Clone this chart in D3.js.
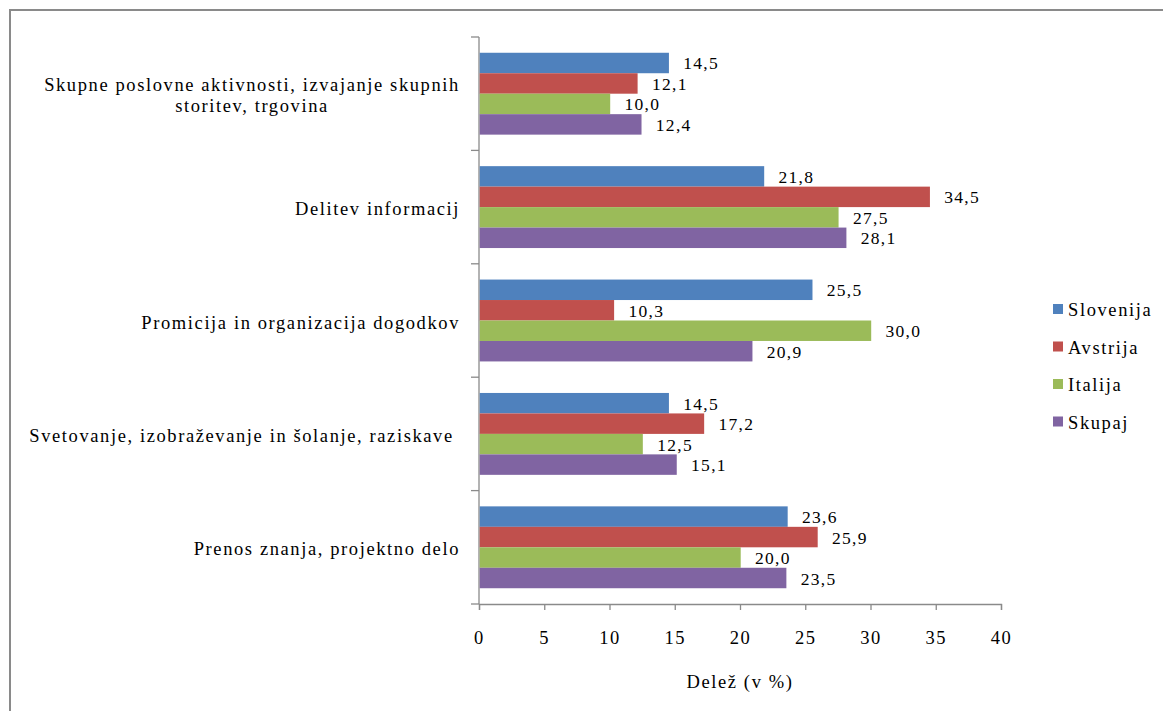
<!DOCTYPE html>
<html><head><meta charset="utf-8">
<script src="https://cdn.jsdelivr.net/npm/d3@7"></script>
<style>
html,body{margin:0;padding:0;background:#fff;overflow:hidden}
</style></head>
<body>
<svg id="chart" width="1163" height="711" font-family="Liberation Serif"></svg>
<script>
const categories = [
  ["Skupne poslovne aktivnosti, izvajanje skupnih", "storitev, trgovina"],
  ["Delitev informacij"],
  ["Promicija in organizacija dogodkov"],
  ["Svetovanje, izobraževanje in šolanje, raziskave "],
  ["Prenos znanja, projektno delo"]
];
const seriesNames = ["Slovenija", "Avstrija", "Italija", "Skupaj"];
const slovenija = [14.5, 21.8, 25.5, 14.5, 23.6];
const avstrija  = [12.1, 34.5, 10.3, 17.2, 25.9];
const italija   = [10.0, 27.5, 30.0, 12.5, 20.0];
const skupaj    = [12.4, 28.1, 20.9, 15.1, 23.5];
const xTicks = [0, 5, 10, 15, 20, 25, 30, 35, 40];
const axisTitle = "Delež (v %)";

(function () {
const FONT = "Liberation Serif";
const seriesValues = [slovenija, avstrija, italija, skupaj];
const colors = ["#4F81BD", "#C0504D", "#9BBB59", "#8064A2"];

const svg = d3.select("#chart");
svg.append("rect").attr("x", 10).attr("y", 10).attr("width", 1200).attr("height", 760)
  .attr("fill", "none").attr("stroke", "#8a8a8a").attr("stroke-width", 2);

const pLeft = 479, pRight = 1001, pTop = 37, pBottom = 604;
const x = d3.scaleLinear().domain([0, 40]).range([pLeft, pRight]);
const catIdx = categories.map((d, i) => i);
const y = d3.scaleBand().domain(catIdx).range([pTop, pBottom]).padding(0);
const ys = d3.scaleBand().domain(d3.range(seriesNames.length)).range([0, y.bandwidth()])
  .paddingInner(0).paddingOuter(0.77);

const axisColor = "#8a8a8a";
const yAxis = svg.append("g");
yAxis.append("line").attr("x1", pLeft).attr("x2", pLeft).attr("y1", pTop).attr("y2", pBottom)
  .attr("stroke", axisColor).attr("stroke-width", 1.3);
yAxis.selectAll("line.t").data(d3.range(categories.length + 1)).enter().append("line")
  .attr("x1", pLeft - 8).attr("x2", pLeft)
  .attr("y1", i => pTop + i * y.step()).attr("y2", i => pTop + i * y.step())
  .attr("stroke", axisColor).attr("stroke-width", 1.3);

const xAxisG = svg.append("g").attr("transform", `translate(0,${pBottom})`)
  .call(d3.axisBottom(x).tickValues(xTicks).tickSize(6).tickPadding(0).tickFormat(d3.format("d")));
xAxisG.attr("font-family", FONT);
xAxisG.select(".domain").attr("stroke", axisColor).attr("stroke-width", 1.3);
xAxisG.selectAll(".tick line").attr("stroke", axisColor).attr("stroke-width", 1.3);
xAxisG.selectAll(".tick text").attr("font-size", 18.5).attr("font-family", FONT)
  .attr("letter-spacing", 1.6).attr("fill", "#000").attr("dy", null).attr("y", 40);

const fmt = v => d3.format(".1f")(v).replace(".", ",");
seriesValues.forEach((vals, s) => {
  const g = svg.append("g");
  g.selectAll("rect").data(vals).enter().append("rect")
    .attr("x", x(0) + 0.7)
    .attr("y", (v, i) => y(i) + ys(s))
    .attr("width", v => x(v) - x(0))
    .attr("height", ys.bandwidth())
    .attr("fill", colors[s]);
  g.selectAll("text").data(vals).enter().append("text")
    .attr("x", v => x(v) + 15)
    .attr("y", (v, i) => y(i) + ys(s) + ys.bandwidth() / 2 + 6.5)
    .attr("font-family", FONT)
    .attr("font-size", 17.5)
    .attr("letter-spacing", 1.3)
    .text(v => fmt(v));
});

categories.forEach((lines, i) => {
  const cy = y(i) + y.bandwidth() / 2;
  if (lines.length === 1) {
    svg.append("text").attr("x", 460).attr("y", cy + 8)
      .attr("text-anchor", "end").attr("font-family", FONT).attr("font-size", 18.5)
      .attr("letter-spacing", 1.6).style("white-space", "pre")
      .text(lines[0]);
  } else {
    const lh = 21;
    lines.forEach((ln, k) => {
      svg.append("text").attr("x", 252).attr("y", cy + 8 + (k - (lines.length - 1) / 2) * lh)
        .attr("text-anchor", "middle").attr("font-family", FONT).attr("font-size", 18.5)
        .attr("letter-spacing", 1.6)
        .text(ln);
    });
  }
});

svg.append("text").attr("x", (pLeft + pRight) / 2).attr("y", 688)
  .attr("text-anchor", "middle").attr("font-family", FONT).attr("font-size", 18.5)
  .attr("letter-spacing", 1.6)
  .text(axisTitle);

const legY0 = 309, legStep = 37.5;
seriesNames.forEach((name, s) => {
  svg.append("rect").attr("x", 1053).attr("y", legY0 + s * legStep - 5).attr("width", 10).attr("height", 10)
    .attr("fill", colors[s]);
  svg.append("text").attr("x", 1068).attr("y", legY0 + s * legStep + 7)
    .attr("font-family", FONT).attr("font-size", 18.5).attr("letter-spacing", 1.6).text(name);
});
})();
</script>
</body></html>
